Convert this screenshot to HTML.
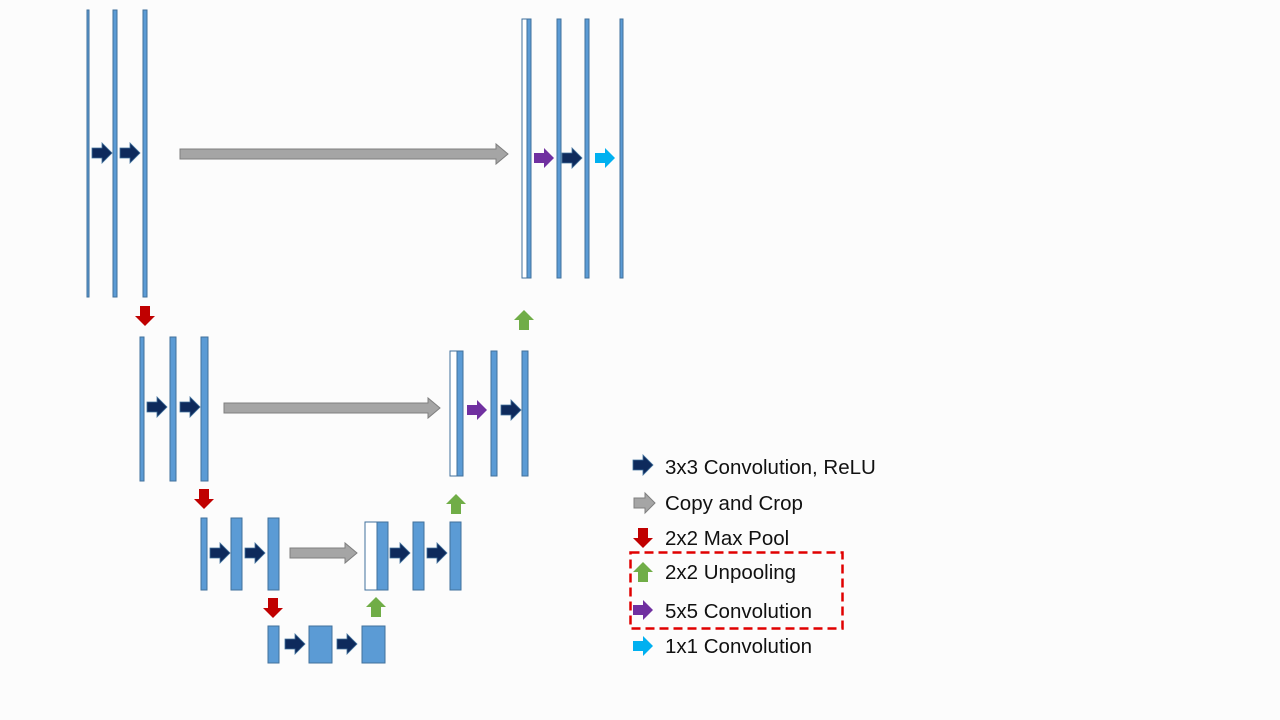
<!DOCTYPE html>
<html><head><meta charset="utf-8"><style>
html,body{margin:0;padding:0;background:#fcfcfc;}
svg{display:block;}
text{font-family:"Liberation Sans",sans-serif;font-size:20.5px;fill:#111;}
</style></head><body>
<svg width="1280" height="720" viewBox="0 0 1280 720" xmlns="http://www.w3.org/2000/svg">
<defs>
<path id="ra" d="M0,-5 H10 V-10 L20,0 L10,10 V5 H0 Z"/>
<path id="da" d="M-5,0 H5 V10 H10 L0,20 L-10,10 H-5 Z"/>
<path id="ua" d="M-5,20 H5 V10 H10 L0,0 L-10,10 H-5 Z"/>
</defs>
<g fill="#5b9bd5" stroke="#41719c" stroke-width="1">
<rect x="87" y="10" width="2" height="287"/>
<rect x="113" y="10" width="4" height="287"/>
<rect x="143" y="10" width="4" height="287"/>
<rect x="527" y="19" width="4" height="259"/>
<rect x="557" y="19" width="4" height="259"/>
<rect x="585" y="19" width="4" height="259"/>
<rect x="620" y="19" width="3" height="259"/>
<rect x="140" y="337" width="4" height="144"/>
<rect x="170" y="337" width="6" height="144"/>
<rect x="201" y="337" width="7" height="144"/>
<rect x="457" y="351" width="6" height="125"/>
<rect x="491" y="351" width="6" height="125"/>
<rect x="522" y="351" width="6" height="125"/>
<rect x="201" y="518" width="6" height="72"/>
<rect x="231" y="518" width="11" height="72"/>
<rect x="268" y="518" width="11" height="72"/>
<rect x="377" y="522" width="11" height="68"/>
<rect x="413" y="522" width="11" height="68"/>
<rect x="450" y="522" width="11" height="68"/>
<rect x="268" y="626" width="11" height="37"/>
<rect x="309" y="626" width="23" height="37"/>
<rect x="362" y="626" width="23" height="37"/>
</g>
<g fill="#fff" stroke="#41719c" stroke-width="1">
<rect x="522" y="19" width="5" height="259"/>
<rect x="450" y="351" width="7" height="125"/>
<rect x="365" y="522" width="12" height="68"/>
</g>
<g fill="#0e2a5c" stroke="#41719c" stroke-width="0.8">
<use href="#ra" x="92" y="153"/><use href="#ra" x="120" y="153"/>
<use href="#ra" x="562" y="158"/>
<use href="#ra" x="147" y="407"/><use href="#ra" x="180" y="407"/>
<use href="#ra" x="501" y="410"/>
<use href="#ra" x="210" y="553"/><use href="#ra" x="245" y="553"/>
<use href="#ra" x="390" y="553"/><use href="#ra" x="427" y="553"/>
<use href="#ra" x="285" y="644"/><use href="#ra" x="337" y="644"/>
<use href="#ra" x="633" y="465"/>
</g>
<g fill="#7030a0"><use href="#ra" x="534" y="158"/><use href="#ra" x="467" y="410"/><use href="#ra" x="633" y="610"/></g>
<g fill="#00b0f0"><use href="#ra" x="595" y="158"/><use href="#ra" x="633" y="646"/></g>
<g fill="#c00000"><use href="#da" x="145" y="306"/><use href="#da" x="204" y="489"/><use href="#da" x="273" y="598"/><use href="#da" x="643" y="528"/></g>
<g fill="#70ad47"><use href="#ua" x="524" y="310"/><use href="#ua" x="456" y="494"/><use href="#ua" x="376" y="597"/><use href="#ua" x="643" y="562"/></g>
<g fill="#a5a5a5" stroke="#7f7f7f" stroke-width="1">
<path d="M180,149 H496 V144 L508,154 L496,164 V159 H180 Z"/>
<path d="M224,403 H428 V398 L440,408 L428,418 V413 H224 Z"/>
<path d="M290,548 H345 V543 L357,553 L345,563 V558 H290 Z"/>
<path d="M634,498 H645 V493 L655,503 L645,513 V508 H634 Z"/>
</g>
<rect x="630.5" y="552.5" width="212" height="76" fill="none" stroke="#e00000" stroke-width="2.5" stroke-dasharray="9,5"/>
<text x="665" y="474">3x3 Convolution, ReLU</text>
<text x="665" y="510">Copy and Crop</text>
<text x="665" y="545">2x2 Max Pool</text>
<text x="665" y="579">2x2 Unpooling</text>
<text x="665" y="618">5x5 Convolution</text>
<text x="665" y="653">1x1 Convolution</text>
</svg>
</body></html>
